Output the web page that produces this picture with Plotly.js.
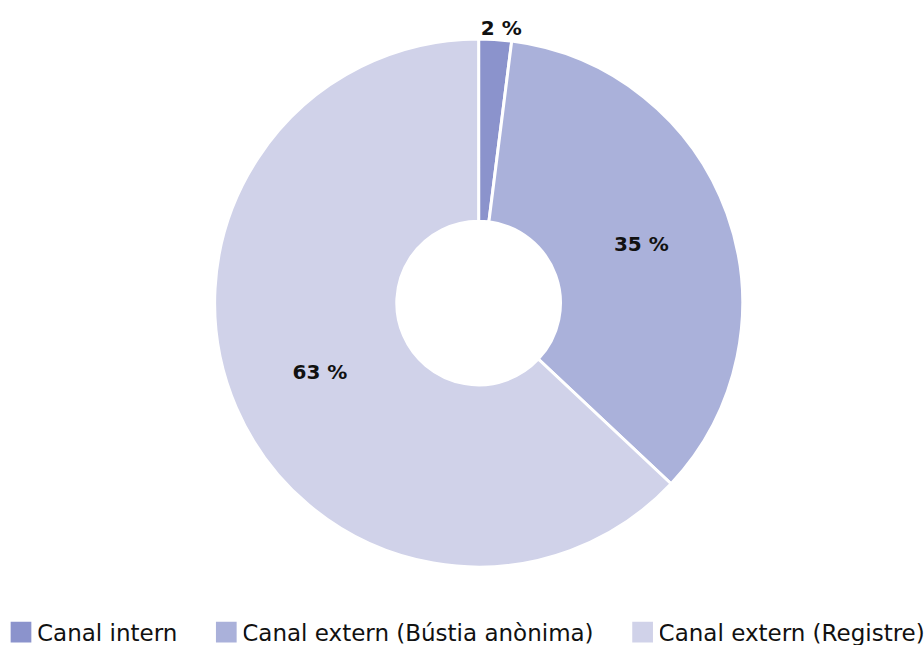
<!DOCTYPE html>
<html>
<head>
<meta charset="utf-8">
<script src="https://cdn.plot.ly/plotly-3.0.1.min.js"></script>
<style>html,body{margin:0;padding:0;background:#fff;}#chart{width:924px;height:645px;}</style>
</head>
<body>
<div id="chart"></div>
<script>
const categories = ['Canal intern', 'Canal extern (Bústia anònima)', 'Canal extern (Registre)'];
const values = [2, 35, 63];
const labelText = ['2 %', '35 %', '63 %'];
const colors = ['#8b93cc', '#aab1da', '#d0d2e9'];
const textPositions = ['outside', 'inside', 'inside'];

const labelFont = {family: 'DejaVu Sans, sans-serif', size: 20, color: '#111111', weight: 700};

const data = [{
  type: 'pie',
  labels: categories,
  values: values,
  text: labelText,
  textinfo: 'text',
  textposition: textPositions,
  insidetextorientation: 'horizontal',
  hole: 0.31,
  sort: false,
  direction: 'clockwise',
  rotation: 0,
  marker: {colors: colors, line: {color: '#ffffff', width: 3}},
  textfont: labelFont,
  insidetextfont: labelFont,
  outsidetextfont: labelFont,
  domain: {x: [0.218, 0.818], y: [0, 1]},
  hoverinfo: 'label+percent'
}];

const layout = {
  width: 924, height: 645,
  margin: {l: 0, r: 0, t: 39, b: 78},
  paper_bgcolor: '#ffffff',
  showlegend: true,
  legend: {
    orientation: 'h', x: 0, xanchor: 'left', xref: 'container',
    y: 0.02, yanchor: 'middle', yref: 'container',
    font: {family: 'DejaVu Sans, sans-serif', size: 23, color: '#111111'},
    traceorder: 'normal'
  }
};

Plotly.newPlot('chart', data, layout, {displayModeBar: false}).then(function (gd) {
  const box = gd.querySelector('.legend .scrollbox');
  if (box) box.removeAttribute('clip-path');
  // enlarge legend swatches
  gd.querySelectorAll('.legend .legendpoints path').forEach(function (p) {
    const t = p.getAttribute('transform') || '';
    p.setAttribute('transform', t + ' translate(4,0) scale(2.3)');
  });
  // widen spacing between legend entries
  gd.querySelectorAll('.legend .traces').forEach(function (g, i) {
    const t = g.getAttribute('transform') || '';
    g.setAttribute('transform', t + ' translate(' + (i * 20 - 3) + ',0)');
  });
  // center the outside label above its slice
  const outside = gd.querySelectorAll('.slice .slicetext')[0];
  if (outside) {
    const w = outside.getBBox().width;
    const t = outside.getAttribute('transform') || '';
    outside.setAttribute('transform', 'translate(' + (-w / 2) + ',0) ' + t);
  }
});
</script>
</body>
</html>
